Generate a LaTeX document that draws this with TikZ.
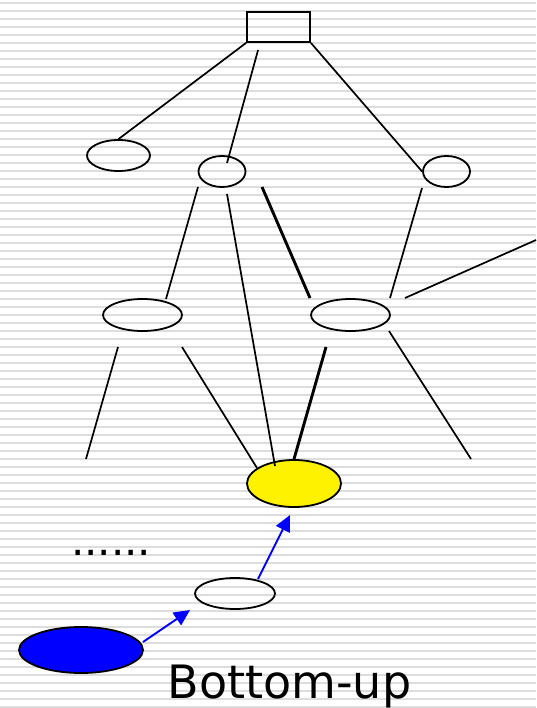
\documentclass[tikz,border=0pt]{standalone}
\usepackage{fontspec}
\usepackage{tikz}
\usetikzlibrary{arrows.meta, shapes.geometric, positioning}
\newfontfamily\labelfont{DejaVu Sans}
\definecolor{stripe}{RGB}{221,221,221}

\begin{document}
\begin{tikzpicture}[x=1pt, y=-1pt,
		ell/.style={draw, ellipse, line width=1.8pt, inner sep=0pt},
		edge/.style={line width=1.7pt},
		thickedge/.style={line width=2.9pt},
		up/.style={draw=blue, line width=1.9pt, -{Triangle[length=16pt, width=15pt]}},
		big/.style={font=\labelfont\fontsize{46}{50}\selectfont}]
			\useasboundingbox (0,0) rectangle (536,708);
			\fill[white] (0,0) rectangle (536,708);
			\foreach \k in {0,...,88}{
				\fill[stripe] (0, 1.7+8*\k) rectangle (536, 3.7+8*\k);
			}
			\node[draw, line width=1.8pt, minimum width=63pt, minimum height=30pt, inner sep=0pt] (root) at (278.5,27) {};
			\node[ell, minimum width=63pt, minimum height=31pt] (a) at (118.5,155.5) {};
			\node[ell, minimum width=47pt, minimum height=31pt] (b) at (222,171.5) {};
			\node[ell, minimum width=47pt, minimum height=31pt] (c) at (446.5,171.5) {};
			\node[ell, minimum width=79pt, minimum height=32pt] (d) at (142.5,315) {};
			\node[ell, minimum width=79pt, minimum height=32pt] (e) at (350.5,315) {};
			\node[ell, fill=yellow, minimum width=94pt, minimum height=47pt] (goal) at (294,483.5) {};
			\node[ell, minimum width=80pt, minimum height=31pt] (mid) at (235,593.5) {};
			\node[ell, fill=blue, minimum width=124pt, minimum height=46pt] (start) at (81,650) {};
			\coordinate (out) at (536,240);
			\coordinate (leafl) at (86,459);
			\coordinate (leafr) at (471,459);

			\draw[edge] (root.south west) -- (a.north);
			\draw[edge] ([shift={(12,7)}]root.south west) -- ([shift={(5,-8.5)}]b.center);
			\draw[edge] (root.south east) -- (c.west);
			\draw[edge] ([shift={(-24,15.5)}]b.center) -- ([shift={(23.5,-16)}]d.center);
			\draw[edge] ([shift={(5,22.5)}]b.center) -- ([shift={(-19,-17.5)}]goal.center);
			\draw[thickedge] ([shift={(40,15.5)}]b.center) -- ([shift={(-40.5,-17)}]e.center);
			\draw[edge] ([shift={(-24.5,16.5)}]c.center) -- ([shift={(39.5,-17)}]e.center);
			\draw[edge] ([shift={(54.5,-17)}]e.center) -- (out);
			\draw[edge] ([shift={(-24.5,32)}]d.center) -- (leafl);
			\draw[edge] ([shift={(39.5,32)}]d.center) -- ([shift={(-37,-15.5)}]goal.center);
			\draw[thickedge] ([shift={(-24.5,32)}]e.center) -- (goal.north);
			\draw[edge] ([shift={(38.5,16)}]e.center) -- (leafr);

			\draw[up] ([shift={(23,-14.5)}]mid.center) -- ([shift={(-4,31.5)}]goal.center);
			\draw[up] ([shift={(62,-8)}]start.center) -- ([shift={(-45,16.5)}]mid.center);

			\node[font=\labelfont\fontsize{42}{46}\selectfont, anchor=base west, inner sep=0pt] (dots) at (71,555) {......};
			\node[big, anchor=base, inner sep=0pt] (tag) at (289.5,698) {Bottom-up};
		\end{tikzpicture}
\end{document}
